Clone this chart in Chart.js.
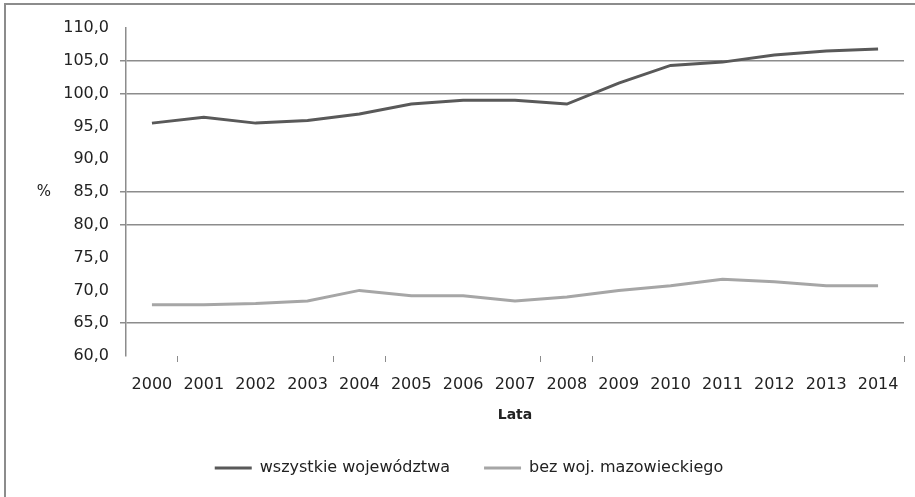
<!DOCTYPE html>
<html>
<head>
<meta charset="utf-8">
<script src="https://cdn.jsdelivr.net/npm/chart.js@4.4.1/dist/chart.umd.min.js"></script>
<style>
  body { margin: 0; background: #fff; overflow: hidden; }
  #ramka { position: absolute; left: 4px; top: 3px; width: 1000px; height: 1000px; border: 2px solid #8c8c8c; }
  #wrap { position: absolute; left: 6px; top: 5px; width: 910px; height: 492px; }
</style>
</head>
<body>
<div id="ramka"></div>
<div id="wrap"><canvas id="wykres"></canvas></div>
<script>
// lata i wartosci (%)
const lata = ['2000', '2001', '2002', '2003', '2004', '2005', '2006', '2007', '2008', '2009', '2010', '2011', '2012', '2013', '2014'];
const wszystkie = [95.5, 96.4, 95.5, 95.9, 96.9, 98.4, 99.0, 99.0, 98.4, 101.6, 104.3, 104.8, 105.9, 106.5, 106.8];
const bezMazowieckiego = [67.8, 67.8, 68.0, 68.4, 70.0, 69.2, 69.2, 68.4, 69.0, 70.0, 70.7, 71.7, 71.3, 70.7, 70.7];
// linie siatki widoczne na oryginale
const widoczneLinie = [105, 100, 85, 80, 65];
const widoczneZnaczniki = [1, 4, 5, 8, 9, 15];

const czcionka = "'DejaVu Sans', sans-serif";

// znak % obok osi Y (poziomo)
const procent = {
  id: 'procent',
  afterDraw(chart) {
    const ctx = chart.ctx;
    const a = chart.chartArea;
    ctx.save();
    ctx.font = '15px ' + czcionka;
    ctx.fillStyle = '#222';
    ctx.textAlign = 'center';
    ctx.textBaseline = 'middle';
    ctx.fillText('%', 38, (a.top + a.bottom) / 2);
    ctx.restore();
  }
};

const ctx = document.getElementById('wykres').getContext('2d');
new Chart(ctx, {
  type: 'line',
  data: {
    labels: lata,
    datasets: [{
      label: 'wszystkie województwa',
      data: wszystkie,
      borderColor: '#595959',
      backgroundColor: '#595959',
      borderWidth: 3,
      pointRadius: 0,
      tension: 0
    }, {
      label: 'bez woj. mazowieckiego',
      data: bezMazowieckiego,
      borderColor: '#a6a6a6',
      backgroundColor: '#a6a6a6',
      borderWidth: 3,
      pointRadius: 0,
      tension: 0
    }]
  },
  options: {
    responsive: true,
    maintainAspectRatio: false,
    animation: false,
    layout: { padding: { left: 28, right: 12, top: 23, bottom: 11 } },
    scales: {
      x: {
        offset: true,
        border: { display: false },
        grid: {
          offset: true,
          drawOnChartArea: false,
          tickLength: 6,
          color: c => (widoczneZnaczniki.includes(c.index === undefined ? 15 : c.index) ? '#8c8c8c' : 'rgba(0,0,0,0)')
        },
        ticks: { color: '#222', font: { family: czcionka, size: 16 }, padding: 13, maxRotation: 0, autoSkip: false },
        title: { display: true, text: 'Lata', color: '#222', font: { family: czcionka, size: 14, weight: 'bold' }, padding: { top: 0, bottom: 2 } }
      },
      y: {
        min: 60,
        max: 110,
        afterFit: s => { s.width = 92; },
        border: { display: true, color: '#8c8c8c', width: 1.5 },
        grid: {
          tickLength: 6,
          lineWidth: 1.5,
          color: c => (widoczneLinie.includes(c.tick && c.tick.value) ? '#8c8c8c' : 'rgba(0,0,0,0)')
        },
        ticks: {
          stepSize: 5,
          color: '#222',
          padding: 11,
          font: { family: czcionka, size: 16 },
          callback: v => v.toFixed(1).replace('.', ',')
        }
      }
    },
    plugins: {
      legend: {
        position: 'bottom',
        labels: {
          usePointStyle: true,
          pointStyle: 'line',
          pointStyleWidth: 37,
          padding: 34,
          color: '#222',
          font: { family: czcionka, size: 16 }
        }
      },
      tooltip: { enabled: false }
    }
  },
  plugins: [procent]
});
</script>
</body>
</html>
